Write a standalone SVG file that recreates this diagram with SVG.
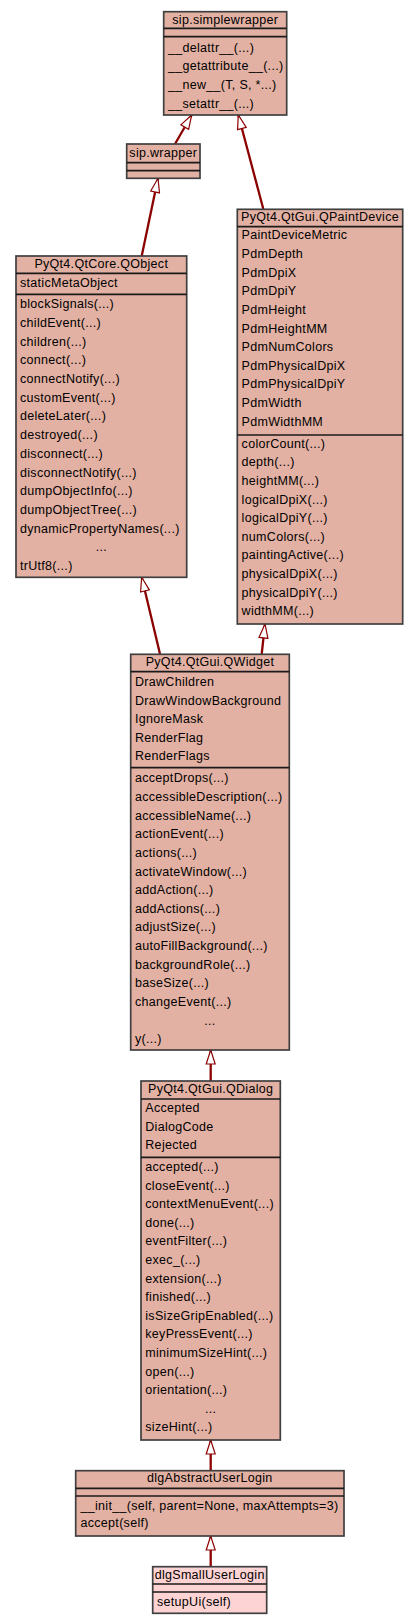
<svg xmlns="http://www.w3.org/2000/svg" width="419" height="1624" viewBox="0 0 419 1624">
<style>
.box{fill:#E3B1A3;stroke:#404040;stroke-width:1.7}
.root{fill:#FDD3D3;stroke:#404040;stroke-width:1.7}
.sep{stroke:#1a1a1a;stroke-width:1.7}
text{font-family:"Liberation Sans",Arial,sans-serif;font-size:12.5px;letter-spacing:0.3px;fill:#000}
.t{text-anchor:middle}
.edge{stroke:#8B0000;stroke-width:2.3;fill:none;marker-end:url(#inh)}
</style>
<defs>
<marker id="inh" markerUnits="userSpaceOnUse" viewBox="-1 -1 16 11" refX="14" refY="4.5" markerWidth="16" markerHeight="11" orient="auto">
<path d="M0,0 L14,4.5 L0,9 Z" fill="#fff" stroke="#8B0000" stroke-width="1.2"/>
</marker>
</defs>
<rect width="419" height="1624" fill="#fff"/>
<g id="connectors">
<line class="edge" x1="175" y1="144" x2="191.7" y2="115"/>
<line class="edge" x1="263.3" y1="209" x2="238.3" y2="115"/>
<line class="edge" x1="141.7" y1="256" x2="158" y2="178.3"/>
<line class="edge" x1="160" y1="654" x2="141.7" y2="577.3"/>
<line class="edge" x1="261.7" y1="654" x2="265" y2="624"/>
<line class="edge" x1="210.7" y1="1081" x2="210.7" y2="1050"/>
<line class="edge" x1="210.7" y1="1470.7" x2="210.7" y2="1440"/>
<line class="edge" x1="210.7" y1="1566.7" x2="210.7" y2="1536"/>
</g>
<g id="simplewrapper">
<rect class="box" x="163.7" y="11.7" width="123" height="103.3"/>
<line class="sep" x1="163.7" y1="28.3" x2="286.7" y2="28.3"/>
<line class="sep" x1="163.7" y1="36.7" x2="286.7" y2="36.7"/>
<text class="t" x="225.2" y="24">sip.simplewrapper</text>
<text x="168" y="51.7">__delattr__(...)</text>
<text x="168" y="70.3">__getattribute__(...)</text>
<text x="168" y="88.9">__new__(T, S, *...)</text>
<text x="168" y="107.5">__setattr__(...)</text>
</g>
<g id="wrapper">
<rect class="box" x="126.7" y="144" width="73.3" height="34.3"/>
<line class="sep" x1="126.7" y1="162.7" x2="200" y2="162.7"/>
<line class="sep" x1="126.7" y1="170.7" x2="200" y2="170.7"/>
<text class="t" x="163.3" y="157">sip.wrapper</text>
</g>
<g id="QObject">
<rect class="box" x="16" y="256" width="170.7" height="321.3"/>
<line class="sep" x1="16" y1="273.3" x2="186.7" y2="273.3"/>
<line class="sep" x1="16" y1="294.3" x2="186.7" y2="294.3"/>
<text class="t" x="101.3" y="267.8">PyQt4.QtCore.QObject</text>
<text x="20" y="286.7">staticMetaObject</text>
<text x="20" y="308.3">blockSignals(...)</text>
<text x="20" y="327">childEvent(...)</text>
<text x="20" y="345.7">children(...)</text>
<text x="20" y="364.4">connect(...)</text>
<text x="20" y="383.1">connectNotify(...)</text>
<text x="20" y="401.8">customEvent(...)</text>
<text x="20" y="420.4">deleteLater(...)</text>
<text x="20" y="439.1">destroyed(...)</text>
<text x="20" y="457.8">disconnect(...)</text>
<text x="20" y="476.5">disconnectNotify(...)</text>
<text x="20" y="495.2">dumpObjectInfo(...)</text>
<text x="20" y="513.9">dumpObjectTree(...)</text>
<text x="20" y="532.6">dynamicPropertyNames(...)</text>
<text class="t" x="101.3" y="551.3">...</text>
<text x="20" y="570">trUtf8(...)</text>
</g>
<g id="QPaintDevice">
<rect class="box" x="237.3" y="209.3" width="165.4" height="414.7"/>
<line class="sep" x1="237.3" y1="226.7" x2="402.7" y2="226.7"/>
<line class="sep" x1="237.3" y1="435" x2="402.7" y2="435"/>
<text class="t" x="320" y="220.5">PyQt4.QtGui.QPaintDevice</text>
<text x="241.6" y="239.3">PaintDeviceMetric</text>
<text x="241.6" y="257.9">PdmDepth</text>
<text x="241.6" y="276.6">PdmDpiX</text>
<text x="241.6" y="295.2">PdmDpiY</text>
<text x="241.6" y="313.8">PdmHeight</text>
<text x="241.6" y="332.5">PdmHeightMM</text>
<text x="241.6" y="351.1">PdmNumColors</text>
<text x="241.6" y="369.7">PdmPhysicalDpiX</text>
<text x="241.6" y="388.3">PdmPhysicalDpiY</text>
<text x="241.6" y="407">PdmWidth</text>
<text x="241.6" y="425.6">PdmWidthMM</text>
<text x="241.6" y="447.7">colorCount(...)</text>
<text x="241.6" y="466.3">depth(...)</text>
<text x="241.6" y="484.9">heightMM(...)</text>
<text x="241.6" y="503.5">logicalDpiX(...)</text>
<text x="241.6" y="522.1">logicalDpiY(...)</text>
<text x="241.6" y="540.7">numColors(...)</text>
<text x="241.6" y="559.3">paintingActive(...)</text>
<text x="241.6" y="577.9">physicalDpiX(...)</text>
<text x="241.6" y="596.5">physicalDpiY(...)</text>
<text x="241.6" y="615.1">widthMM(...)</text>
</g>
<g id="QWidget">
<rect class="box" x="130.7" y="654.3" width="158.6" height="395.7"/>
<line class="sep" x1="130.7" y1="671.7" x2="289.3" y2="671.7"/>
<line class="sep" x1="130.7" y1="767.7" x2="289.3" y2="767.7"/>
<text class="t" x="210" y="666">PyQt4.QtGui.QWidget</text>
<text x="135" y="686">DrawChildren</text>
<text x="135" y="704.5">DrawWindowBackground</text>
<text x="135" y="723">IgnoreMask</text>
<text x="135" y="741.5">RenderFlag</text>
<text x="135" y="760">RenderFlags</text>
<text x="135" y="782.3">acceptDrops(...)</text>
<text x="135" y="800.9">accessibleDescription(...)</text>
<text x="135" y="819.6">accessibleName(...)</text>
<text x="135" y="838.2">actionEvent(...)</text>
<text x="135" y="856.9">actions(...)</text>
<text x="135" y="875.5">activateWindow(...)</text>
<text x="135" y="894.1">addAction(...)</text>
<text x="135" y="912.8">addActions(...)</text>
<text x="135" y="931.4">adjustSize(...)</text>
<text x="135" y="950.1">autoFillBackground(...)</text>
<text x="135" y="968.7">backgroundRole(...)</text>
<text x="135" y="987.3">baseSize(...)</text>
<text x="135" y="1006">changeEvent(...)</text>
<text class="t" x="210" y="1024.6">...</text>
<text x="135" y="1043.3">y(...)</text>
</g>
<g id="QDialog">
<rect class="box" x="141" y="1081" width="139.3" height="359"/>
<line class="sep" x1="141" y1="1099" x2="280.3" y2="1099"/>
<line class="sep" x1="141" y1="1157.3" x2="280.3" y2="1157.3"/>
<text class="t" x="210.7" y="1093.3">PyQt4.QtGui.QDialog</text>
<text x="145.3" y="1111.7">Accepted</text>
<text x="145.3" y="1130.5">DialogCode</text>
<text x="145.3" y="1149.3">Rejected</text>
<text x="145.3" y="1171">accepted(...)</text>
<text x="145.3" y="1189.6">closeEvent(...)</text>
<text x="145.3" y="1208.2">contextMenuEvent(...)</text>
<text x="145.3" y="1226.8">done(...)</text>
<text x="145.3" y="1245.4">eventFilter(...)</text>
<text x="145.3" y="1264">exec_(...)</text>
<text x="145.3" y="1282.6">extension(...)</text>
<text x="145.3" y="1301.2">finished(...)</text>
<text x="145.3" y="1319.8">isSizeGripEnabled(...)</text>
<text x="145.3" y="1338.4">keyPressEvent(...)</text>
<text x="145.3" y="1357">minimumSizeHint(...)</text>
<text x="145.3" y="1375.6">open(...)</text>
<text x="145.3" y="1394.2">orientation(...)</text>
<text class="t" x="210.7" y="1412.8">...</text>
<text x="145.3" y="1431.4">sizeHint(...)</text>
</g>
<g id="dlgAbstractUserLogin">
<rect class="box" x="75.7" y="1470.7" width="268.3" height="65.3"/>
<line class="sep" x1="75.7" y1="1488.3" x2="344" y2="1488.3"/>
<line class="sep" x1="75.7" y1="1496" x2="344" y2="1496"/>
<text class="t" x="209.8" y="1482">dlgAbstractUserLogin</text>
<text x="80.5" y="1510">__init__(self, parent=None, maxAttempts=3)</text>
<text x="80.5" y="1527.3">accept(self)</text>
</g>
<g id="dlgSmallUserLogin">
<rect class="root" x="152.7" y="1566.7" width="114" height="46.6"/>
<line class="sep" x1="152.7" y1="1584" x2="266.7" y2="1584"/>
<line class="sep" x1="152.7" y1="1592" x2="266.7" y2="1592"/>
<text class="t" x="209.7" y="1578.5">dlgSmallUserLogin</text>
<text x="157" y="1605.7">setupUi(self)</text>
</g>
</svg>
